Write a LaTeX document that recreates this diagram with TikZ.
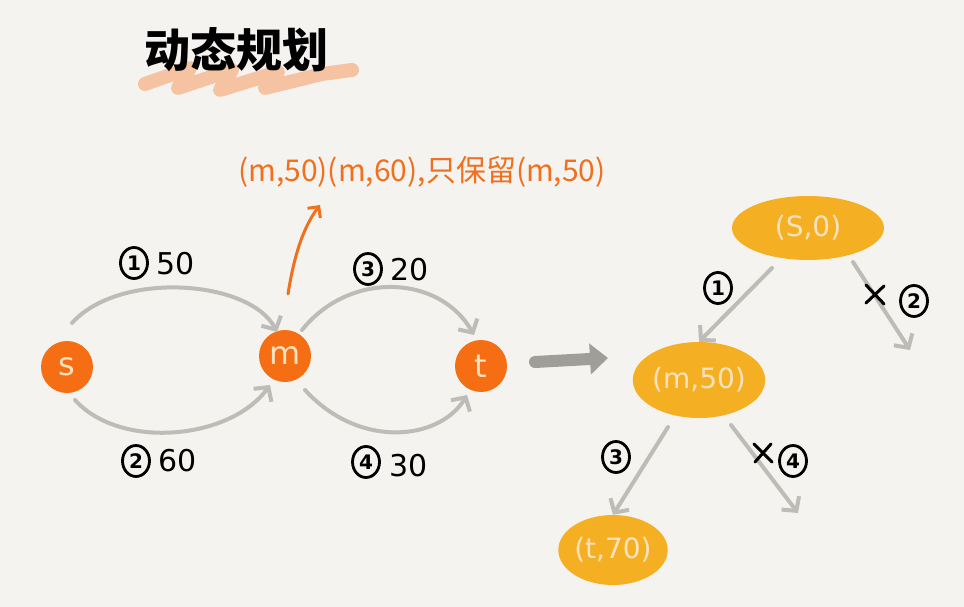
\documentclass[tikz,border=0pt]{standalone}
\usepackage{fontspec}
\setmainfont{DejaVu Sans}
\newfontfamily\cjk{Noto Sans CJK SC}
\usetikzlibrary{arrows.meta,shapes.geometric}
\definecolor{bg}{RGB}{245,243,239}
\definecolor{dotor}{RGB}{245,110,20}
\definecolor{txtor}{RGB}{240,112,30}
\definecolor{ell}{RGB}{245,175,35}
\definecolor{cream}{RGB}{252,226,190}
\definecolor{edge}{RGB}{190,188,183}
\definecolor{bigarr}{RGB}{160,158,152}
\definecolor{brush}{RGB}{246,170,120}
\tikzset{
  dot/.style={circle,fill=dotor,minimum size=52pt,inner sep=0pt,text=cream,font=\fontsize{32}{32}\selectfont},
  tnode/.style={ellipse,fill=ell,inner sep=0pt,text=cream,font=\fontsize{28}{28}\selectfont},
  edg/.style={draw=edge,line width=4pt,line cap=round,-{Straight Barb[length=10pt,width=22pt,line width=4pt]}},
  lbl/.style={font=\fontsize{30}{30}\selectfont,text=black},
  circ/.style={ellipse,draw=black,line width=2.8pt,inner sep=0pt,minimum width=27pt,minimum height=31pt,font=\bfseries\fontsize{20}{20}\selectfont},
  cross/.style={draw=black,line width=3pt,line cap=round}
}
\begin{document}
\begin{tikzpicture}[x=1pt,y=-1pt]
\fill[bg] (0,0) rectangle (964,607);
\useasboundingbox (0,0) rectangle (964,607);
% title brush
\draw[brush,opacity=0.65,line width=14pt,line cap=round,line join=round]
  (145,84) -- (190,68) -- (178,88) -- (232,70) -- (220,90) -- (278,72) -- (265,88) -- (322,74) -- (352,70);
\node[font=\cjk\bfseries\fontsize{46}{46}\selectfont] (title) at (236,50) {动态规划};
% annotation
\node[text=txtor,font=\cjk\fontsize{30}{30}\selectfont] (note) at (422,172) {(m,50)(m,60),只保留(m,50)};
% graph nodes
\node[dot] (s) at (67,367) {s};
\node[dot] (m) at (285,356) {m};
\node[dot] (t) at (481,366) {t};
\coordinate (noteend) at (320,205);
\draw[txtor,line width=3pt,line cap=round,-{Straight Barb[length=8pt,width=16pt,line width=3pt]}]
  ([shift={(3,-62)}]m.center) .. controls (295,250) and (305,225) .. (noteend);
% gray edges
\draw[edg] ([shift={(5,-44)}]s.center) .. controls (120,270) and (250,280) .. ([shift={(-8,-24)}]m.center);
\draw[edg] ([shift={(8,33)}]s.center) .. controls (120,450) and (230,440) .. ([shift={(-15,29)}]m.center);
\draw[edg] ([shift={(17,-26)}]m.center) .. controls (350,270) and (440,275) .. ([shift={(-7,-31)}]t.center);
\draw[edg] ([shift={(20,34)}]m.center) .. controls (360,450) and (440,440) .. ([shift={(-14,29)}]t.center);
\node[circ] (c1) at (134,263) {1};
\node[lbl,anchor=west] (l1) at (153,264) {50};
\node[circ] (c2) at (136,461) {2};
\node[lbl,anchor=west] (l2) at (155,461) {60};
\node[circ] (c3) at (368,269) {3};
\node[lbl,anchor=west] (l3) at (387,270) {20};
\node[circ] (c4) at (366,462) {4};
\node[lbl,anchor=west] (l4) at (386,466) {30};
% big arrow
\coordinate (ba) at (535,362);
\coordinate (bb) at (608,358);
\draw[bigarr,line width=12pt,line cap=round,-{Triangle[length=18pt,width=30pt]}] (ba) -- (bb);
% tree
\node[tnode,minimum width=152pt,minimum height=64pt] (S0) at (808,228) {(S,0)};
\node[tnode,minimum width=116pt,minimum height=76pt] (M50) at (699,380) {(m,50)};
\node[tnode,minimum width=104pt,minimum height=70pt] (T70) at (613,550) {(t,70)};
\coordinate (x2) at (910,350);
\coordinate (x4) at (798,513);
\draw[edg] ([shift={(-36,40)}]S0.center) -- (M50.north);
\draw[edg] ([shift={(45,34)}]S0.center) -- (x2);
\draw[edg] ([shift={(-31,47)}]M50.center) -- (T70.north);
\draw[edg] ([shift={(32,45)}]M50.center) -- (x4);
\node[circ] (t1) at (718,288) {1};
\draw[cross] (866,285) -- (884,304) (884,286) -- (866,303);
\node[circ] (t2) at (914,301) {2};
\node[circ] (t3) at (616,457) {3};
\draw[cross] (754,444) -- (772,462) (771,444) -- (755,462);
\node[circ] (t4) at (793,461) {4};
\end{tikzpicture}
\end{document}
